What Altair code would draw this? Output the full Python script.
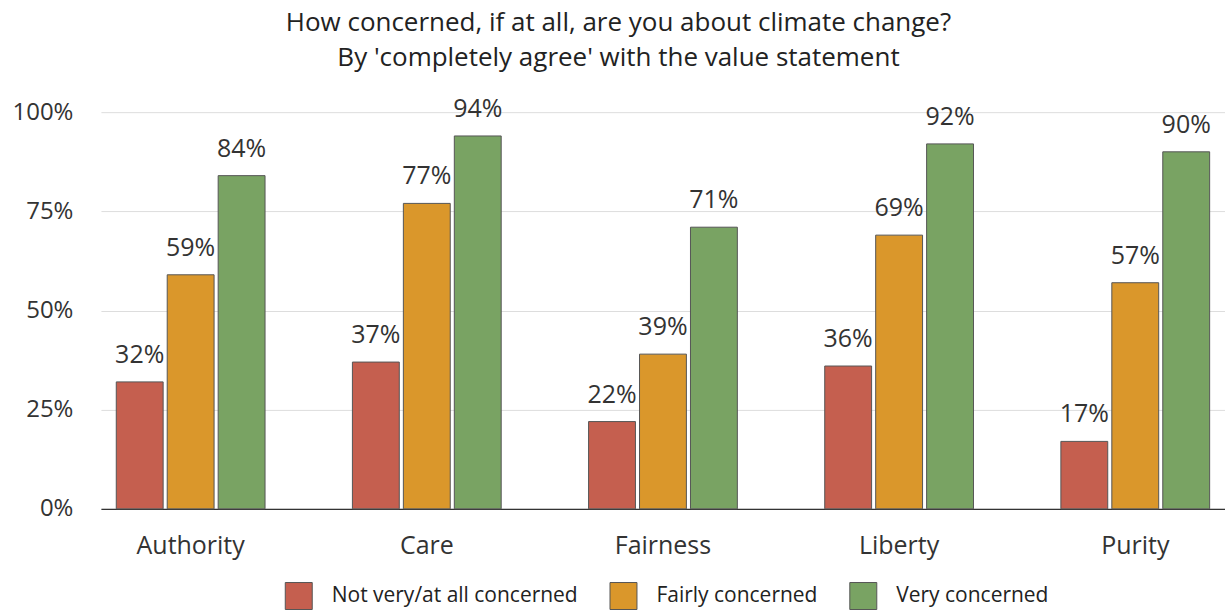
import altair as alt
import pandas as pd

values_label = ["Authority", "Care", "Fairness", "Liberty", "Purity"]
series = ["Not very/at all concerned", "Fairly concerned", "Very concerned"]
not_concerned = [32, 37, 22, 36, 17]
fairly_concerned = [59, 77, 39, 69, 57]
very_concerned = [84, 94, 71, 92, 90]
colors = ["#c55f4f", "#da972b", "#79a363"]

rows = []
for i, v in enumerate(values_label):
    for s, vals in zip(series, [not_concerned, fairly_concerned, very_concerned]):
        rows.append({"value": v, "level": s, "pct": vals[i], "lbl": f"{vals[i]}%"})
df = pd.DataFrame(rows)

FONT = "Open Sans"

x_enc = alt.X("value:N", sort=values_label, title=None,
              scale=alt.Scale(paddingInner=0.37, paddingOuter=0.065),
              axis=alt.Axis(labelAngle=0, labelFontSize=25, labelColor="#333",
                            labelPadding=25, ticks=False, domainColor="#333",
                            domainWidth=1.2, grid=False))
xoff = alt.XOffset("level:N", sort=series, scale=alt.Scale(paddingInner=0.08))

bars = alt.Chart(df).mark_bar(stroke="#555", strokeWidth=1).encode(
    x=x_enc,
    xOffset=xoff,
    y=alt.Y("pct:Q", title=None, scale=alt.Scale(domain=[0, 100]),
            axis=alt.Axis(values=[0, 25, 50, 75, 100], labelExpr="datum.value + '%'",
                          labelFontSize=24, labelColor="#333", labelPadding=28,
                          ticks=False, domain=False, gridColor="#dddddd")),
    color=alt.Color("level:N", sort=series,
                    scale=alt.Scale(domain=series, range=colors),
                    legend=alt.Legend(title=None, orient="none", direction="horizontal",
                                      legendX=184, legendY=470,
                                      symbolType="square", symbolSize=729,
                                      symbolStrokeColor="#555", symbolStrokeWidth=1,
                                      labelFontSize=21, labelColor="#222", labelLimit=0,
                                      labelOffset=19, columnPadding=29)),
)

labels = alt.Chart(df).mark_text(dy=-27, fontSize=25, color="#333", font=FONT).encode(
    x=alt.X("value:N", sort=values_label),
    xOffset=xoff,
    y="pct:Q",
    text="lbl:N",
)

chart = (bars + labels).properties(
    width=1125, height=397,
    title=alt.TitleParams(
        ["How concerned, if at all, are you about climate change?",
         "By 'completely agree' with the value statement"],
        fontSize=26, fontWeight="normal", color="#222", lineHeight=35,
        anchor="middle", frame="bounds", offset=26),
    padding={"left": 11, "right": 0, "top": 9, "bottom": 0},
).configure(font=FONT).configure_view(stroke=None)

chart.save("out.html", embed_options={"renderer": "svg", "actions": False})
